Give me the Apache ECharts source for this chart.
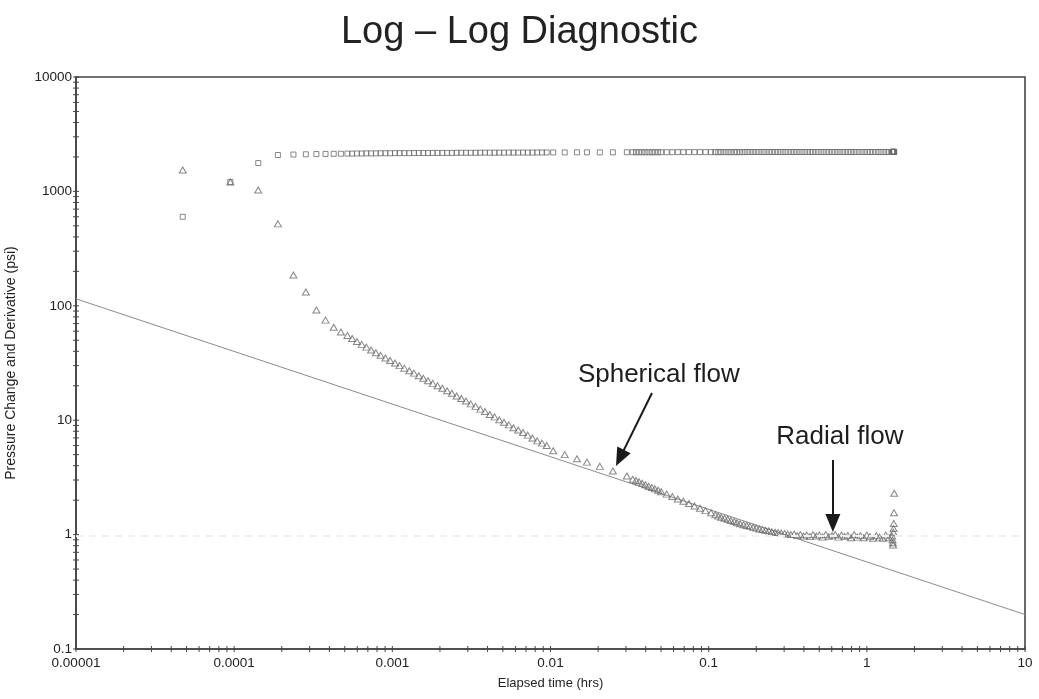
<!DOCTYPE html>
<html>
<head>
<meta charset="utf-8">
<title>Log – Log Diagnostic</title>
<script src="https://cdn.jsdelivr.net/npm/echarts@6/dist/echarts.min.js"></script>
<style>
  html, body { margin: 0; padding: 0; background: #ffffff; }
  #chart { width: 1039px; height: 699px; }
</style>
</head>
<body>
<div id="chart"></div>
<script>
// Elapsed time of each sample (hrs)
const times = [
  0.0000473, 0.0000946, 0.000142, 0.000189, 0.000237, 0.000284, 0.000331, 0.000378, 0.000426, 0.000473,
  0.000520, 0.000557, 0.000597, 0.000640, 0.000685, 0.000734, 0.000787, 0.000843, 0.000904, 0.000968,
  0.00104, 0.00111, 0.00119, 0.00128, 0.00137, 0.00147, 0.00157, 0.00168, 0.00180, 0.00193,
  0.00207, 0.00222, 0.00238, 0.00255, 0.00273, 0.00292, 0.00313, 0.00336, 0.00360, 0.00385,
  0.00413, 0.00443, 0.00474, 0.00508, 0.00545, 0.00583, 0.00625, 0.00670, 0.00718, 0.00769,
  0.00824, 0.00883, 0.00946,
  0.0104, 0.0123, 0.0147, 0.0170, 0.0205, 0.0248, 0.0304,
  0.0331, 0.0347, 0.0363, 0.0380, 0.0398, 0.0417, 0.0437, 0.0457, 0.0479, 0.0501,
  0.0543, 0.0589, 0.0638, 0.0692, 0.0750, 0.0813, 0.0881, 0.0955, 0.1035,
  0.110, 0.115, 0.120, 0.126, 0.132, 0.138, 0.145, 0.151, 0.158, 0.166,
  0.174, 0.182, 0.191, 0.200, 0.209, 0.219, 0.229, 0.240, 0.251, 0.263,
  0.275, 0.288, 0.302, 0.316, 0.331, 0.347, 0.363,
  0.380, 0.398, 0.417, 0.437, 0.457, 0.479, 0.501, 0.525, 0.550, 0.575,
  0.603, 0.631, 0.661, 0.692, 0.724, 0.759, 0.794, 0.832, 0.871, 0.912,
  0.955, 1.000, 1.047, 1.096, 1.148, 1.202, 1.259, 1.318, 1.380, 1.445,
  1.455, 1.460, 1.465, 1.470, 1.475, 1.480, 1.485, 1.490
];

// Pressure change (psi), square markers
const pressureChange = [
  600, 1210, 1770, 2080, 2100, 2110, 2120, 2125, 2130, 2135,
  2140, 2140, 2145, 2145, 2150, 2150, 2150, 2155, 2155, 2155,
  2160, 2160, 2160, 2160, 2165, 2165, 2165, 2165, 2170, 2170,
  2170, 2170, 2170, 2175, 2175, 2175, 2175, 2175, 2180, 2180,
  2180, 2180, 2180, 2180, 2185, 2185, 2185, 2185, 2185, 2185,
  2190, 2190, 2190,
  2190, 2190, 2195, 2195, 2195, 2195, 2200,
  2200, 2200, 2200, 2200, 2200, 2200, 2200, 2200, 2200, 2200,
  2200, 2200, 2205, 2205, 2205, 2205, 2205, 2205, 2205,
  2205, 2205, 2205, 2205, 2205, 2205, 2205, 2205, 2205, 2205,
  2210, 2210, 2210, 2210, 2210, 2210, 2210, 2210, 2210, 2210,
  2210, 2210, 2210, 2210, 2210, 2210, 2210,
  2210, 2210, 2210, 2210, 2210, 2210, 2210, 2210, 2210, 2210,
  2210, 2210, 2210, 2210, 2210, 2210, 2210, 2210, 2210, 2210,
  2210, 2210, 2210, 2210, 2210, 2210, 2210, 2210, 2210, 2210,
  2215, 2215, 2215, 2215, 2215, 2215, 2215, 2215
];

// Pressure derivative (psi), triangle markers
const derivative = [
  1540, 1210, 1030, 520, 186, 132, 92, 75, 65, 59,
  55.0, 51.7, 48.8, 46.0, 43.5, 41.1, 38.9, 36.9, 35.0, 33.2,
  31.6, 30.0, 28.5, 27.1, 25.8, 24.5, 23.3, 22.1, 21.0, 20.0,
  19.0, 18.1, 17.2, 16.3, 15.5, 14.7, 13.9, 13.2, 12.5, 11.9,
  11.2, 10.7, 10.1, 9.6, 9.1, 8.6, 8.2, 7.8, 7.4, 7.0,
  6.6, 6.3, 6.0,
  5.4, 5.0, 4.6, 4.3, 3.95, 3.6, 3.25,
  3.05, 2.97, 2.89, 2.81, 2.73, 2.65, 2.58, 2.51, 2.44, 2.37,
  2.26, 2.15, 2.05, 1.96, 1.87, 1.78, 1.70, 1.62, 1.55,
  1.49, 1.45, 1.42, 1.39, 1.36, 1.33, 1.30, 1.27, 1.245, 1.22,
  1.20, 1.18, 1.16, 1.14, 1.12, 1.11, 1.09, 1.08, 1.06, 1.05,
  1.04, 1.03, 1.02, 1.01, 1.00, 1.01, 0.98,
  1.00, 0.97, 0.99, 0.96, 1.00, 0.97, 0.99, 0.95, 1.00, 0.96,
  0.98, 1.00, 0.95, 0.99, 0.96, 0.98, 0.94, 1.00, 0.95, 0.98,
  0.94, 0.99, 0.96, 0.93, 0.98, 0.95, 0.93, 0.99, 0.94, 0.97,
  0.90, 0.85, 0.81, 1.05, 1.13, 1.25, 1.55, 2.30
];

// Straight-line reference through the spherical-flow period
const sphericalLineTime = [0.00001, 10];
const sphericalLineValue = [115, 0.2];

// Axis decades and their labels
const xTickLabels = ['0.00001', '0.0001', '0.001', '0.01', '0.1', '1', '10'];
const yTickLabels = ['0.1', '1', '10', '100', '1000', '10000'];

// Annotations: label text, label anchor [t, psi], arrow tail and head [t, psi]
const annotationText = ['Spherical flow', 'Radial flow'];
const annotationAnchor = [[0.0484, 24.8], [0.675, 7.13]];
const arrowTail = [[0.0438, 17.3], [0.61, 4.49]];
const arrowHead = [[0.0275, 4.68], [0.61, 1.26]];

const xMin = Number(xTickLabels[0]);
const xMax = Number(xTickLabels[xTickLabels.length - 1]);
const yMin = Number(yTickLabels[0]);
const yMax = Number(yTickLabels[yTickLabels.length - 1]);

const FONT = 'Liberation Sans, Arial, Helvetica, sans-serif';
const AXIS_COLOR = '#454545';
const MARK_COLOR = '#6a6a6a';

function zip(a, b) { return a.map((v, i) => [v, b[i]]); }

// Tick positions at 1..9 x each decade along both log axes
function decadeTicks(lo, hi) {
  const out = [];
  for (let e = Math.round(Math.log10(lo)); e < Math.round(Math.log10(hi)); e++) {
    for (let k = 1; k <= 9; k++) out.push(k * Math.pow(10, e));
  }
  out.push(hi);
  return out;
}
const xTicks = decadeTicks(xMin, xMax).map(v => [v, yMin]);
const yTicks = decadeTicks(yMin, yMax).map(v => [xMin, v]);

function labelFor(list) {
  return function (value) {
    for (const s of list) {
      if (Math.abs(Math.log10(value) - Math.log10(Number(s))) < 1e-6) return s;
    }
    return '';
  };
}

function tickRenderer(vertical) {
  return function (params, api) {
    const p = api.coord([api.value(0), api.value(1)]);
    const h = 3;
    const shape = vertical
      ? { x1: p[0], y1: p[1] - h, x2: p[0], y2: p[1] + h }
      : { x1: p[0] - h, y1: p[1], x2: p[0] + h, y2: p[1] };
    return { type: 'line', shape: shape, style: { stroke: AXIS_COLOR, lineWidth: 1 } };
  };
}

const chart = echarts.init(document.getElementById('chart'), null, { renderer: 'canvas' });

chart.setOption({
  animation: false,
  backgroundColor: '#ffffff',
  textStyle: { fontFamily: FONT },
  title: {
    text: 'Log – Log Diagnostic',
    left: 'center',
    top: 9,
    textStyle: { fontFamily: FONT, fontSize: 38, fontWeight: 'normal', color: '#222222' }
  },
  grid: {
    left: 76, right: 14, top: 77, bottom: 50,
    containLabel: false, outerBoundsMode: 'none',
    show: true, borderColor: AXIS_COLOR, borderWidth: 1.6, backgroundColor: 'transparent'
  },
  xAxis: {
    type: 'log', logBase: 10, min: xMin, max: xMax,
    name: 'Elapsed time (hrs)', nameLocation: 'middle', nameGap: 28,
    nameTextStyle: { fontFamily: FONT, fontSize: 13, color: '#222222' },
    axisLine: { show: true, lineStyle: { color: AXIS_COLOR, width: 1.6 } },
    axisTick: { show: false },
    splitLine: { show: false },
    axisLabel: { fontFamily: FONT, fontSize: 13.5, color: '#222222', margin: 7, formatter: labelFor(xTickLabels) }
  },
  yAxis: {
    type: 'log', logBase: 10, min: yMin, max: yMax,
    name: 'Pressure Change and Derivative (psi)', nameLocation: 'middle', nameGap: 58,
    nameTextStyle: { fontFamily: FONT, fontSize: 14, color: '#222222' },
    axisLine: { show: true, lineStyle: { color: AXIS_COLOR, width: 1.6 } },
    axisTick: { show: false },
    splitLine: { show: false },
    axisLabel: { fontFamily: FONT, fontSize: 13.5, color: '#222222', margin: 4, formatter: labelFor(yTickLabels) }
  },
  series: [
    {
      // faint band at unit derivative level
      type: 'line', data: [], silent: true,
      markLine: {
        silent: true, symbol: 'none', animation: false,
        label: { show: false },
        lineStyle: { color: '#f0f0f0', width: 2, type: [7, 6] },
        data: [{ yAxis: 0.97 }]
      }
    },
    {
      name: 'Spherical line', type: 'line', data: zip(sphericalLineTime, sphericalLineValue),
      symbol: 'none', silent: true,
      lineStyle: { color: '#8c8c8c', width: 1 },
      z: 2
    },
    {
      name: 'Pressure change', type: 'scatter', data: zip(times, pressureChange),
      symbol: 'rect', symbolSize: 5,
      itemStyle: { color: 'rgba(0,0,0,0)', borderColor: MARK_COLOR, borderWidth: 1 },
      z: 3
    },
    {
      name: 'Derivative', type: 'scatter', data: zip(times, derivative),
      symbol: 'triangle', symbolSize: [7, 6],
      itemStyle: { color: 'rgba(0,0,0,0)', borderColor: MARK_COLOR, borderWidth: 1 },
      z: 3
    },
    {
      name: 'Annotations', type: 'line', data: [], silent: true,
      markLine: {
        silent: true, animation: false,
        symbol: ['none', 'triangle'], symbolSize: [15, 18],
        label: { show: false },
        lineStyle: { color: '#1a1a1a', width: 2, type: 'solid' },
        data: arrowTail.map((t, i) => [{ coord: t }, { coord: arrowHead[i] }])
      },
      markPoint: {
        silent: true, animation: false,
        symbol: 'circle', symbolSize: 1,
        itemStyle: { color: 'rgba(0,0,0,0)' },
        label: {
          show: true, position: 'inside',
          fontFamily: FONT, fontSize: 26, color: '#1e1e1e',
          formatter: p => p.name
        },
        data: annotationAnchor.map((c, i) => ({ coord: c, name: annotationText[i] }))
      }
    },
    {
      name: 'x ticks', type: 'custom', data: xTicks, silent: true, clip: false,
      renderItem: tickRenderer(true), z: 5
    },
    {
      name: 'y ticks', type: 'custom', data: yTicks, silent: true, clip: false,
      renderItem: tickRenderer(false), z: 5
    }
  ]
});
</script>
</body>
</html>
